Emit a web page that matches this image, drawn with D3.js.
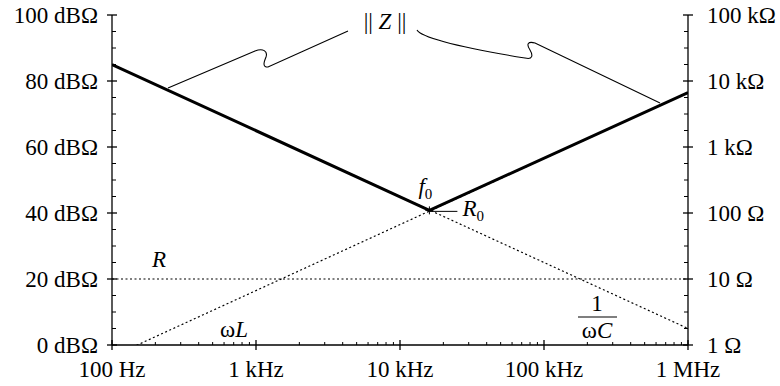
<!DOCTYPE html>
<html><head><meta charset="utf-8">
<script src="https://cdn.jsdelivr.net/npm/d3@7"></script>
<style>body{margin:0;background:#fff}svg{display:block}</style>
</head><body><svg id="c" width="780" height="386"></svg>
<script>
// Data
const xTicks = [100, 1000, 10000, 100000, 1000000];
const xTickLabels = ["100 Hz", "1 kHz", "10 kHz", "100 kHz", "1 MHz"];
const yTicksDb = [0, 20, 40, 60, 80, 100];
const yTickLabels = ["0 dBΩ", "20 dBΩ", "40 dBΩ", "60 dBΩ", "80 dBΩ", "100 dBΩ"];
const rTicks = [1, 10, 100, 1000, 10000, 100000];
const rTickLabels = ["1 Ω", "10 Ω", "100 Ω", "1 kΩ", "10 kΩ", "100 kΩ"];
const lineFreqs = [100, 1000000];
const capDb = [85, 5];          // 1/ωC
const indDb = [-3.5, 76.5];     // ωL
const resDb = [20, 20];         // R
const zFreqs = [100, 16000, 1000000];
const zDb = [85, 40.8, 76.5];   // ||Z||
const f0 = 16000, r0Db = 40.8;

const FONT = '"Liberation Serif"';
const svg = d3.select("#c");
const T = (sel) => sel.append("text").attr("font-family", FONT).attr("fill", "#000");
const x = d3.scaleLog().domain([100, 1e6]).range([112, 688]);
const y = d3.scaleLinear().domain([0, 100]).range([345, 15]);
const yr = d3.scaleLog().domain([1, 1e5]).range([345, 15]);

svg.append("defs").append("clipPath").attr("id","clip").append("rect")
  .attr("x",112).attr("y",15).attr("width",576).attr("height",330);

const ax = svg.append("g").attr("stroke","#000").attr("stroke-width",1.3).attr("fill","none");
ax.append("line").attr("x1",112).attr("x2",112).attr("y1",y(100)).attr("y2",y(0));
ax.append("line").attr("x1",688).attr("x2",688).attr("y1",y(100)).attr("y2",y(0));
ax.append("line").attr("x1",112).attr("x2",688).attr("y1",y(0)).attr("y2",y(0));

const minorDb = d3.range(0, 101, 5).filter(d => d % 20 !== 0);
minorDb.forEach(d => {
  ax.append("line").attr("x1",112).attr("x2",116).attr("y1",y(d)).attr("y2",y(d)).attr("stroke-width",1);
  ax.append("line").attr("x1",684).attr("x2",688).attr("y1",y(d)).attr("y2",y(d)).attr("stroke-width",1);
});
yTicksDb.forEach(d => {
  ax.append("line").attr("x1",107).attr("x2",117).attr("y1",y(d)).attr("y2",y(d));
});
rTicks.forEach(d => {
  ax.append("line").attr("x1",683).attr("x2",693).attr("y1",yr(d)).attr("y2",yr(d));
});
const minorX = [];
for (let dec = 100; dec < 1e6; dec *= 10) for (let k = 2; k <= 9; k++) minorX.push(dec * k);
minorX.forEach(f => {
  ax.append("line").attr("x1",x(f)).attr("x2",x(f)).attr("y1",y(0)-3).attr("y2",y(0)).attr("stroke-width",1);
});
xTicks.forEach(f => {
  ax.append("line").attr("x1",x(f)).attr("x2",x(f)).attr("y1",y(0)-5).attr("y2",y(0)+5);
});

const fs = 23;
yTicksDb.forEach((d,i) => {
  T(svg).attr("x",98).attr("y",y(d)+8).attr("text-anchor","end").attr("font-size",fs).text(yTickLabels[i]);
});
rTicks.forEach((d,i) => {
  T(svg).attr("x",707).attr("y",yr(d)+8).attr("text-anchor","start").attr("font-size",fs).text(rTickLabels[i]);
});
xTicks.forEach((d,i) => {
  T(svg).attr("x",x(d)).attr("y",377).attr("text-anchor","middle").attr("font-size",fs).text(xTickLabels[i]);
});

const g = svg.append("g").attr("clip-path","url(#clip)");
const line = (fs_, ds) => d3.line().x((d,i)=>x(fs_[i])).y(d=>y(d))(ds);
[resDb, capDb, indDb].forEach(ds => {
  g.append("path").attr("d", line(lineFreqs, ds)).attr("stroke","#000").attr("stroke-width",1.2).attr("stroke-dasharray","2,2.5").attr("fill","none");
});
g.append("path").attr("d", line(zFreqs, zDb)).attr("stroke","#000").attr("stroke-width",3).attr("fill","none");

const fx = x(f0), fy = y(r0Db);
svg.append("path").attr("d",`M${fx-4},${fy}H${fx+4}M${fx},${fy-4}V${fy+4}`).attr("stroke","#000").attr("stroke-width",1);
svg.append("line").attr("x1",fx).attr("x2",fx+28).attr("y1",fy+1).attr("y2",fy+1).attr("stroke","#000").attr("stroke-width",1);
const tf = T(svg).attr("x",fx-11).attr("y",fy-16).attr("font-size",fs);
tf.append("tspan").attr("font-style","italic").text("f");
tf.append("tspan").attr("font-size",15).attr("dy",5).text("0");
const tr = T(svg).attr("x",fx+33).attr("y",fy+6).attr("font-size",fs);
tr.append("tspan").attr("font-style","italic").text("R");
tr.append("tspan").attr("font-size",15).attr("dy",5).text("0");

T(svg).attr("x",152).attr("y",267).attr("font-size",fs).attr("font-style","italic").text("R");
const tl = T(svg).attr("x",220).attr("y",337).attr("font-size",fs);
tl.append("tspan").text("ω");
tl.append("tspan").attr("font-style","italic").text("L");
T(svg).attr("x",597).attr("y",311).attr("text-anchor","middle").attr("font-size",fs).text("1");
svg.append("line").attr("x1",578).attr("x2",617).attr("y1",317).attr("y2",317).attr("stroke","#000").attr("stroke-width",1.2);
const tc = T(svg).attr("x",597).attr("y",338).attr("text-anchor","middle").attr("font-size",fs);
tc.append("tspan").text("ω");
tc.append("tspan").attr("font-style","italic").text("C");

const tz = T(svg).attr("x",385).attr("y",29).attr("text-anchor","middle").attr("font-size",fs);
tz.append("tspan").text("|| ");
tz.append("tspan").attr("font-style","italic").text("Z");
tz.append("tspan").text(" ||");

const lead = svg.append("g").attr("stroke","#000").attr("stroke-width",1.1).attr("fill","none");
lead.append("path").attr("d","M168,88 L255,51 C263,48 268,51 266,57 C264,62 262,67 268,67 L348,31");
lead.append("path").attr("d","M417,30 C420,36 450,46 525,58 C533,60 533,55 530,50 C526,44 528,41 535,43 L660,103");
</script></body></html>
